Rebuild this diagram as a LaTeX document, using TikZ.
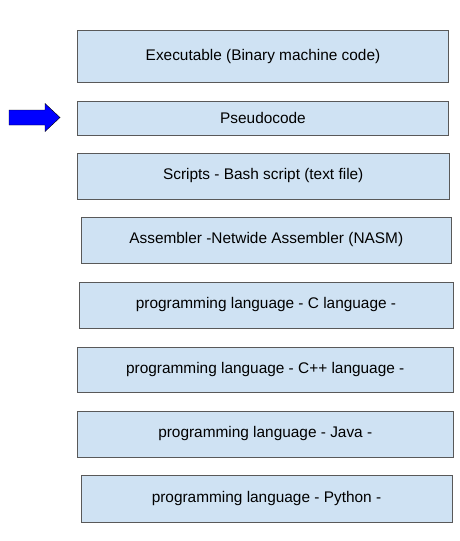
\documentclass[tikz,border=0pt]{standalone}
\usepackage{fontspec}
\setmainfont{Liberation Sans}
\definecolor{boxfill}{HTML}{CFE2F3}
\definecolor{boxline}{HTML}{595959}
\begin{document}
\begin{tikzpicture}[x=1pt,y=-1pt,
  layer/.style={draw=boxline,line width=0.9pt,fill=boxfill,inner sep=0pt,
    font=\fontsize{15.4}{18}\selectfont},
  bluearrow/.style={draw=black,line width=0.4pt,fill=blue}]
\useasboundingbox (0,0) rectangle (460,541);
\fill[white] (0,0) rectangle (460,541);
\newcommand{\layerbox}[6]{%
  \node[layer,minimum width=#4-#2,minimum height=#5-#3] (#1) at ({(#2+#4)/2},{(#3+#5)/2}) {#6};}
\layerbox{exe}{77.5}{30.5}{448.5}{82}{Executable (Binary machine code)}
\layerbox{pseudo}{77.5}{101}{448.5}{135}{Pseudocode}
\layerbox{scripts}{77.5}{153}{449}{199}{Scripts - Bash script (text file)}
\layerbox{asm}{81}{217}{451.5}{263}{Assembler -Netwide Assembler (NASM)}
\layerbox{clang}{79}{282}{453}{328}{programming language - C language -}
\layerbox{cpp}{77.5}{347}{453}{392}{programming language - C++ language -}
\layerbox{java}{77.5}{411}{453}{457}{programming language - Java -}
\layerbox{python}{81}{475}{452}{522}{programming language - Python -}
\coordinate (tip) at (60,117.5);
\draw[bluearrow] (9,110) -- (45,110) -- (45,103.5) -- (tip) -- (45,131.5) -- (45,125) -- (9,125) -- cycle;
\end{tikzpicture}
\end{document}
